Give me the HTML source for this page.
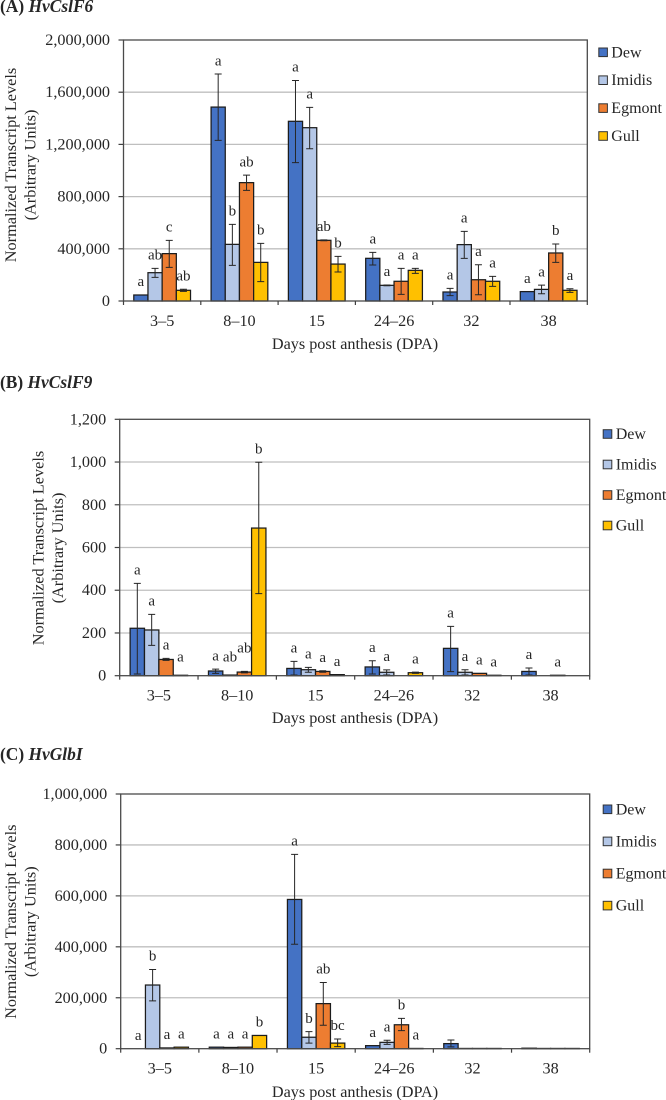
<!DOCTYPE html>
<html lang="en">
<head>
<meta charset="utf-8">
<title>Normalized transcript levels</title>
<style>
html,body{margin:0;padding:0;background:#fff;}
body{width:666px;height:1100px;overflow:hidden;}
svg{display:block;filter:blur(0.3px);}
text{font-family:"Liberation Serif",serif;fill:#262626;}
</style>
</head>
<body>
<svg id="figure" width="666" height="1100" viewBox="0 0 666 1100" xmlns="http://www.w3.org/2000/svg"></svg>
<script>
const categories = ['3–5', '8–10', '15', '24–26', '32', '38'];
const seriesNames = ['Dew', 'Imidis', 'Egmont', 'Gull'];

// Panel A: HvCslF6
const f6Ticks = [0, 400000, 800000, 1200000, 1600000, 2000000];
const f6Dew = [46000, 1486000, 1377000, 327000, 69000, 72000];
const f6DewHigh = [46000, 1739000, 1690000, 373000, 97000, 72000];
const f6DewLow = [46000, 1231000, 1060000, 276000, 41000, 72000];
const f6DewSig = ['a', 'a', 'a', 'a', 'a', 'a'];
const f6Imidis = [217000, 434000, 1328000, 120000, 432000, 89000];
const f6ImidisHigh = [250000, 587000, 1484000, 123000, 534000, 122000];
const f6ImidisLow = [181000, 273000, 1167000, 117000, 327000, 56000];
const f6ImidisSig = ['ab', 'b', 'a', 'a', 'a', 'a'];
const f6Egmont = [363000, 907000, 465000, 151000, 163000, 368000];
const f6EgmontHigh = [465000, 965000, 468000, 250000, 278000, 437000];
const f6EgmontLow = [258000, 848000, 462000, 51000, 48000, 296000];
const f6EgmontSig = ['c', 'ab', 'ab', 'a', 'a', 'b'];
const f6Gull = [82000, 296000, 283000, 235000, 151000, 82000];
const f6GullHigh = [90000, 442000, 342000, 250000, 189000, 94000];
const f6GullLow = [74000, 148000, 222000, 212000, 112000, 66000];
const f6GullSig = ['ab', 'b', 'b', 'a', 'a', 'a'];

// Panel B: HvCslF9
const f9Ticks = [0, 200, 400, 600, 800, 1000, 1200];
const f9Dew = [222, 22, 34, 41, 128, 20];
const f9DewHigh = [432, 31, 67, 70, 231, 36];
const f9DewLow = [8, 11, 3, 8, 19, 3];
const f9DewSig = ['a', 'a', 'a', 'a', 'a', 'a'];
const f9Imidis = [214, 3, 28, 16, 16, 0];
const f9ImidisHigh = [287, 3, 39, 27, 28, 0];
const f9ImidisLow = [142, 3, 16, 3, 3, 0];
const f9ImidisSig = ['a', 'ab', 'a', 'a', 'a', ''];
const f9Egmont = [76, 17, 20, 0, 11, 2];
const f9EgmontHigh = [81, 20, 23, 0, 11, 2];
const f9EgmontLow = [72, 13, 16, 0, 11, 2];
const f9EgmontSig = ['a', 'ab', 'a', '', 'a', 'a'];
const f9Gull = [2, 691, 5, 14, 2, 0];
const f9GullHigh = [2, 999, 5, 17, 2, 0];
const f9GullLow = [2, 384, 5, 11, 2, 0];
const f9GullSig = ['a', 'b', 'a', 'a', 'a', ''];
// letters that the original lifts clear of a neighbouring mark: series, category, value level
const f9LiftedLetters = [[3, 0, 25], [1, 1, 25], [2, 1, 68]];

// Panel C: HvGlbI
const glbTicks = [0, 200000, 400000, 600000, 800000, 1000000];
const glbDew = [0, 6000, 586000, 12000, 20000, 2000];
const glbDewHigh = [0, 6000, 763000, 12000, 34000, 2000];
const glbDewLow = [0, 6000, 410000, 12000, 7000, 2000];
const glbDewSig = ['a', 'a', 'a', 'a', '', ''];
const glbImidis = [250000, 5000, 45000, 25000, 1000, 1000];
const glbImidisHigh = [311000, 5000, 67000, 33000, 1000, 1000];
const glbImidisLow = [188000, 5000, 22000, 17000, 1000, 1000];
const glbImidisSig = ['b', 'a', 'b', 'a', '', ''];
const glbEgmont = [3000, 6000, 177000, 94000, 1000, 1000];
const glbEgmontHigh = [3000, 6000, 260000, 119000, 1000, 1000];
const glbEgmontLow = [3000, 6000, 92000, 71000, 1000, 1000];
const glbEgmontSig = ['a', 'a', 'ab', 'b', '', ''];
const glbGull = [6000, 52000, 22000, 1000, 1000, 1000];
const glbGullHigh = [6000, 52000, 38000, 1000, 1000, 1000];
const glbGullLow = [6000, 52000, 8000, 1000, 1000, 1000];
const glbGullSig = ['a', 'b', 'bc', 'a', '', ''];

const seriesFill = ['#4472c4', '#b4c7e7', '#ed7d31', '#ffc000'];
const svgNS = 'http://www.w3.org/2000/svg';
const root = document.getElementById('figure');

function make(tag, parent, attrs, txt) {
  const el = document.createElementNS(svgNS, tag);
  for (const k in attrs) el.setAttribute(k, attrs[k]);
  if (txt !== undefined) el.textContent = txt;
  parent.appendChild(el);
  return el;
}

function drawPanel(p) {
  const g = make('g', root, {});
  
  

  const yMax = p.ticks[p.ticks.length - 1];
  const yAt = v => p.bottom - (v / yMax) * (p.bottom - p.top);
  const band = (p.right - p.left) / categories.length;
  const barW = band / 5.45;
  const xAt = (c, s) => p.left + c * band + (band - 4 * barW) / 2 + s * barW;

  const title = make('text', g, {x: 0, y: p.titleY, 'font-size': 17.4, 'font-weight': 'bold', fill: '#111'});
  
  
  make('tspan', title, {}, p.letter + ' ');
  make('tspan', title, {'font-style': 'italic'}, p.gene);

  // gridlines, tick marks and tick labels
  p.ticks.forEach(t => {
    const y = yAt(t);
    if (t > 0 && t < yMax) {
      const grid = make('line', g, {x1: p.left, x2: p.right, y1: y, y2: y, stroke: '#bfbfbf', 'stroke-width': 1.3});
      
      
    }
    const tick = make('line', g, {x1: p.left - 5, x2: p.left, y1: y, y2: y, stroke: '#404040', 'stroke-width': 1.2});
    
    
    const lab = make('text', g, {x: p.left - p.tickGap, y: y + 5, 'font-size': 16.2, 'text-anchor': 'end'}, t.toLocaleString('en-US'));
    
    
  });

  // bars
  p.series.forEach((ser, s) => {
    ser.mean.forEach((v, c) => {
      if (v <= 0) return;
      const bar = make('rect', g, {x: xAt(c, s), y: yAt(v), width: barW, height: p.bottom - yAt(v), fill: seriesFill[s], stroke: '#1c1c1c', 'stroke-width': 1.25});
      
      
    });
  });

  // error bars and significance letters
  p.series.forEach((ser, s) => {
    ser.mean.forEach((v, c) => {
      const cx = xAt(c, s) + barW / 2;
      const hi = ser.high[c], lo = ser.low[c];
      if (hi > v || lo < v) {
        const err = make('path', g, {
          d: 'M' + (cx - 3.5) + ' ' + yAt(hi) + 'H' + (cx + 3.5) + 'M' + cx + ' ' + yAt(hi) + 'V' + yAt(lo) + 'M' + (cx - 3.5) + ' ' + yAt(lo) + 'H' + (cx + 3.5),
          fill: 'none', stroke: '#262626', 'stroke-width': 1
        });
        
        
      }
      if (ser.sig[c]) {
        let level = Math.max(hi, v);
        p.lifted.forEach(l => { if (l[0] === s && l[1] === c) level = Math.max(level, l[2]); });
        const sig = make('text', g, {x: cx, y: yAt(level) - 8.8, 'font-size': 15, 'text-anchor': 'middle'}, ser.sig[c]);
        
        
      }
    });
  });

  // plot frame
  const frame = make('rect', g, {x: p.left, y: p.top, width: p.right - p.left, height: p.bottom - p.top, fill: 'none', stroke: '#4a4a4a', 'stroke-width': 1.3});
  
  

  // category ticks and labels
  for (let c = 0; c <= categories.length; c++) {
    const x = p.left + c * band;
    const tick = make('line', g, {x1: x, x2: x, y1: p.bottom, y2: p.bottom + 4, stroke: '#404040', 'stroke-width': 1.2});
    
    
  }
  categories.forEach((name, c) => {
    const lab = make('text', g, {x: p.left + (c + 0.5) * band, y: p.bottom + 25, 'font-size': 16.2, 'text-anchor': 'middle'}, name);
    
    
  });

  const xTitle = make('text', g, {x: 355, y: p.xTitleY, 'font-size': 16.2, 'text-anchor': 'middle'}, 'Days post anthesis (DPA)');
  
  

  const yTitle = make('text', g, {transform: 'translate(' + p.yTitleX + ' ' + p.yTitleY + ') rotate(-90)', 'font-size': 16.3, 'text-anchor': 'middle'}, 'Normalized Transcript Levels');
  
  
  const yUnits = make('text', g, {transform: 'translate(' + (p.yTitleX + 19.5) + ' ' + p.yTitleY + ') rotate(-90)', 'font-size': 16.3, 'text-anchor': 'middle'}, '(Arbitrary Units)');
  
  

  // legend
  seriesNames.forEach((name, s) => {
    const cy = p.legendTop + s * p.legendStep;
    const swatch = make('rect', g, {x: p.legendX, y: cy - 4.3, width: 8.6, height: 8.6, fill: seriesFill[s], stroke: '#333', 'stroke-width': 1});
    
    
    const lab = make('text', g, {x: p.legendX + 12.5, y: cy + 5, 'font-size': 16}, name);
    
    
  });
}

drawPanel({
  id: 'hvcslf6', letter: '(A)', gene: 'HvCslF6', titleY: 12, ticks: f6Ticks,
  left: 123.5, right: 587.3, top: 40, bottom: 301, tickGap: 13.5,
  xTitleY: 349, yTitleX: 16, yTitleY: 165, legendX: 598.8, legendTop: 52.3, legendStep: 27.9, lifted: [],
  series: [
    {mean: f6Dew, high: f6DewHigh, low: f6DewLow, sig: f6DewSig},
    {mean: f6Imidis, high: f6ImidisHigh, low: f6ImidisLow, sig: f6ImidisSig},
    {mean: f6Egmont, high: f6EgmontHigh, low: f6EgmontLow, sig: f6EgmontSig},
    {mean: f6Gull, high: f6GullHigh, low: f6GullLow, sig: f6GullSig}
  ]
});
drawPanel({
  id: 'hvcslf9', letter: '(B)', gene: 'HvCslF9', titleY: 388, ticks: f9Ticks,
  left: 119.7, right: 589.7, top: 419.3, bottom: 675.7, tickGap: 13.5,
  xTitleY: 723, yTitleX: 43.5, yTitleY: 548, legendX: 603.2, legendTop: 434, legendStep: 30.5, lifted: f9LiftedLetters,
  series: [
    {mean: f9Dew, high: f9DewHigh, low: f9DewLow, sig: f9DewSig},
    {mean: f9Imidis, high: f9ImidisHigh, low: f9ImidisLow, sig: f9ImidisSig},
    {mean: f9Egmont, high: f9EgmontHigh, low: f9EgmontLow, sig: f9EgmontSig},
    {mean: f9Gull, high: f9GullHigh, low: f9GullLow, sig: f9GullSig}
  ]
});
drawPanel({
  id: 'hvglbi', letter: '(C)', gene: 'HvGlbI', titleY: 760, ticks: glbTicks,
  left: 120.7, right: 589.7, top: 794, bottom: 1048.7, tickGap: 13.5,
  xTitleY: 1097, yTitleX: 16, yTitleY: 921.7, legendX: 603.2, legendTop: 809.3, legendStep: 32.1, lifted: [],
  series: [
    {mean: glbDew, high: glbDewHigh, low: glbDewLow, sig: glbDewSig},
    {mean: glbImidis, high: glbImidisHigh, low: glbImidisLow, sig: glbImidisSig},
    {mean: glbEgmont, high: glbEgmontHigh, low: glbEgmontLow, sig: glbEgmontSig},
    {mean: glbGull, high: glbGullHigh, low: glbGullLow, sig: glbGullSig}
  ]
});
</script>
</body>
</html>
